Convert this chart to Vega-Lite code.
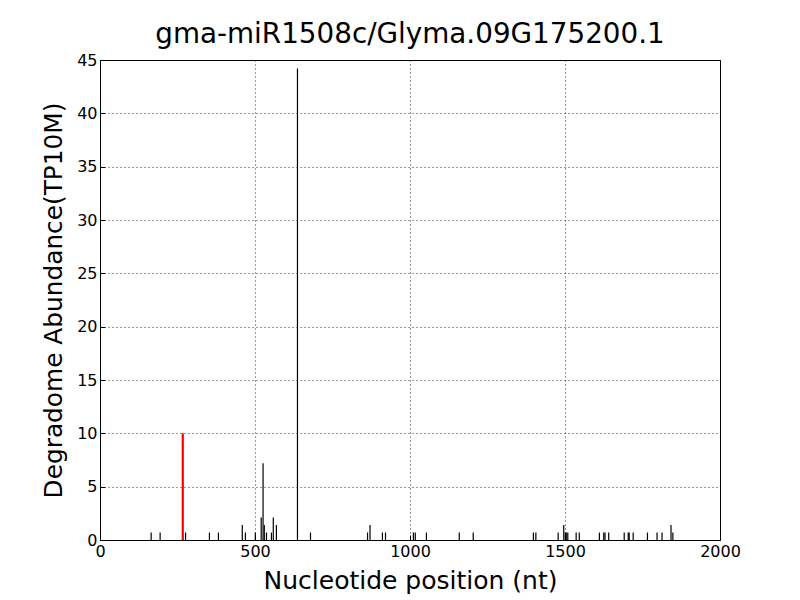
{
  "$schema": "https://vega.github.io/schema/vega-lite/v6.json",
  "width": 620,
  "height": 480,
  "autosize": {"type": "none"},
  "padding": {"left": 100, "top": 60, "right": 80, "bottom": 60},
  "background": "white",
  "title": {"text": "gma-miR1508c/Glyma.09G175200.1", "font": "DejaVu Sans", "fontSize": 27.8, "fontWeight": "normal", "color": "black", "offset": 3, "anchor": "middle"},
  "config": {
    "view": {"stroke": "black", "strokeWidth": 1},
    "axis": {"labelFont": "DejaVu Sans", "titleFont": "DejaVu Sans", "labelFontSize": 16, "titleFontWeight": "normal", "labelColor": "black", "titleColor": "black", "domainColor": "black", "tickColor": "black", "tickSize": -5, "gridColor": "black", "gridDash": [1, 3], "gridOpacity": 1, "gridWidth": 0.8}
  },
  "data": {"values": [
    {"pos": 165, "abund": 0.7, "kind": "other"},
    {"pos": 194, "abund": 0.7, "kind": "other"},
    {"pos": 267, "abund": 10, "kind": "target"},
    {"pos": 276, "abund": 0.7, "kind": "other"},
    {"pos": 353, "abund": 0.7, "kind": "other"},
    {"pos": 382, "abund": 0.7, "kind": "other"},
    {"pos": 459, "abund": 1.4, "kind": "other"},
    {"pos": 469, "abund": 0.7, "kind": "other"},
    {"pos": 501, "abund": 0.7, "kind": "other"},
    {"pos": 520, "abund": 2.1, "kind": "other"},
    {"pos": 526, "abund": 7.2, "kind": "other"},
    {"pos": 530, "abund": 1.4, "kind": "other"},
    {"pos": 537, "abund": 0.7, "kind": "other"},
    {"pos": 553, "abund": 0.7, "kind": "other"},
    {"pos": 559, "abund": 2.1, "kind": "other"},
    {"pos": 569, "abund": 1.4, "kind": "other"},
    {"pos": 637, "abund": 44.2, "kind": "other"},
    {"pos": 679, "abund": 0.7, "kind": "other"},
    {"pos": 863, "abund": 0.7, "kind": "other"},
    {"pos": 871, "abund": 1.4, "kind": "other"},
    {"pos": 911, "abund": 0.7, "kind": "other"},
    {"pos": 921, "abund": 0.7, "kind": "other"},
    {"pos": 1011, "abund": 0.7, "kind": "other"},
    {"pos": 1017, "abund": 0.7, "kind": "other"},
    {"pos": 1053, "abund": 0.7, "kind": "other"},
    {"pos": 1159, "abund": 0.7, "kind": "other"},
    {"pos": 1204, "abund": 0.7, "kind": "other"},
    {"pos": 1398, "abund": 0.7, "kind": "other"},
    {"pos": 1406, "abund": 0.7, "kind": "other"},
    {"pos": 1478, "abund": 0.7, "kind": "other"},
    {"pos": 1496, "abund": 1.4, "kind": "other"},
    {"pos": 1501, "abund": 0.7, "kind": "other"},
    {"pos": 1504, "abund": 0.7, "kind": "other"},
    {"pos": 1509, "abund": 0.7, "kind": "other"},
    {"pos": 1536, "abund": 0.7, "kind": "other"},
    {"pos": 1546, "abund": 0.7, "kind": "other"},
    {"pos": 1611, "abund": 0.7, "kind": "other"},
    {"pos": 1625, "abund": 0.7, "kind": "other"},
    {"pos": 1629, "abund": 0.7, "kind": "other"},
    {"pos": 1641, "abund": 0.7, "kind": "other"},
    {"pos": 1691, "abund": 0.7, "kind": "other"},
    {"pos": 1704, "abund": 0.7, "kind": "other"},
    {"pos": 1707, "abund": 0.7, "kind": "other"},
    {"pos": 1720, "abund": 0.7, "kind": "other"},
    {"pos": 1766, "abund": 0.7, "kind": "other"},
    {"pos": 1797, "abund": 0.7, "kind": "other"},
    {"pos": 1813, "abund": 0.7, "kind": "other"},
    {"pos": 1842, "abund": 1.4, "kind": "other"},
    {"pos": 1848, "abund": 0.7, "kind": "other"}
  ]},
  "mark": {"type": "rule"},
  "encoding": {
    "x": {"field": "pos", "type": "quantitative", "scale": {"domain": [0, 2000], "nice": false}, "axis": {"values": [0, 500, 1000, 1500, 2000], "format": "d", "title": "Nucleotide position (nt)", "titleFontSize": 25, "labelPadding": 8, "titlePadding": 9, "grid": true, "labelFlush": false}},
    "y": {"field": "abund", "type": "quantitative", "scale": {"domain": [0, 45], "nice": false}, "axis": {"values": [0, 5, 10, 15, 20, 25, 30, 35, 40, 45], "format": "d", "title": "Degradome Abundance(TP10M)", "titleFontSize": 24.8, "labelPadding": 8, "titlePadding": 10, "grid": true, "labelFlush": false}},
    "y2": {"datum": 0},
    "color": {"field": "kind", "type": "nominal", "scale": {"domain": ["other", "target"], "range": ["black", "red"]}, "legend": null},
    "strokeWidth": {"field": "kind", "type": "nominal", "scale": {"domain": ["other", "target"], "range": [1.2, 2.2]}, "legend": null}
  }
}
